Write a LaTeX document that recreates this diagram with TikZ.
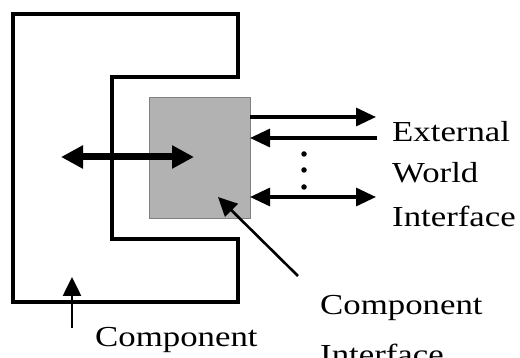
\documentclass[tikz,border=0pt]{standalone}
\usepackage{fontspec}
\setmainfont{Liberation Serif}
\usetikzlibrary{arrows.meta}
\tikzset{
  wall/.style={line width=3.4pt, line join=miter},
  iface/.style={fill=black!30, draw=black!50, line width=0.6pt},
  bigarrow/.style={line width=7pt, {Triangle[length=22pt,width=22pt]}-{Triangle[length=22pt,width=22pt]}},
  linkarrow/.style={line width=3.2pt},
  tipR/.style={-{Triangle[length=20pt,width=18pt]}},
  tipB/.style={{Triangle[length=20pt,width=18pt]}-{Triangle[length=20pt,width=18pt]}},
  pointer/.style={line width=2.6pt, -{Triangle[length=19pt,width=18pt]}},
  lbl/.style={anchor=base west, inner sep=0pt, font=\fontsize{29}{34}\selectfont},
  dot/.style={circle, fill=black, inner sep=0pt, minimum size=5.5pt}
}
\newcommand{\wide}[1]{\scalebox{1.2}[1]{#1}}
\begin{document}
\begin{tikzpicture}[x=1pt,y=-1pt]
  \useasboundingbox (0,0) rectangle (520,358);
  \clip (0,0) rectangle (520,358);
  % component outline (C shape)
  \draw[wall] (13,14) -- (238,14) -- (238,77) -- (112,77) -- (112,239)
              -- (238,239) -- (238,302) -- (13,302) -- cycle;
  % component interface block
  \node[iface, anchor=north west, minimum width=101pt, minimum height=121pt, inner sep=0pt] (ci) at (149,97) {};
  % internal link
  \coordinate (inL) at (61,157);
  \coordinate (inR) at (194,157);
  \draw[bigarrow] (inL) -- (inR);
  % external links
  \coordinate (a1) at (250,117); \coordinate (b1) at (376,117);
  \coordinate (a2) at (250,138); \coordinate (b2) at (377,138);
  \coordinate (a3) at (250,197); \coordinate (b3) at (376,197);
  \draw[linkarrow, tipR] (a1) -- (b1);
  \draw[linkarrow, tipR] (b2) -- (a2);
  \draw[linkarrow, tipB] (a3) -- (b3);
  \node[dot] (d1) at (304,154) {};
  \node[dot] (d2) at (304,170) {};
  \node[dot] (d3) at (304,187) {};
  % labels
  \node[lbl] (ew1) at (392,142) {\wide{External}};
  \node[lbl] (ew2) at (392,183) {\wide{World}};
  \node[lbl] (ew3) at (392,227) {\wide{Interface}};
  \node[lbl] (cl) at (95,347) {\wide{Component}};
  \node[lbl] (cil1) at (320,315) {\wide{Component}};
  \node[lbl] (cil2) at (320,364) {\wide{Interface}};
  % pointers
  \coordinate (cp) at (72,328);
  \coordinate (cpt) at (72,277);
  \draw[pointer] (cp) -- (cpt);
  \coordinate (ip) at (298,276);
  \coordinate (ipt) at (218,197);
  \draw[pointer] (ip) -- (ipt);
\end{tikzpicture}
\end{document}
